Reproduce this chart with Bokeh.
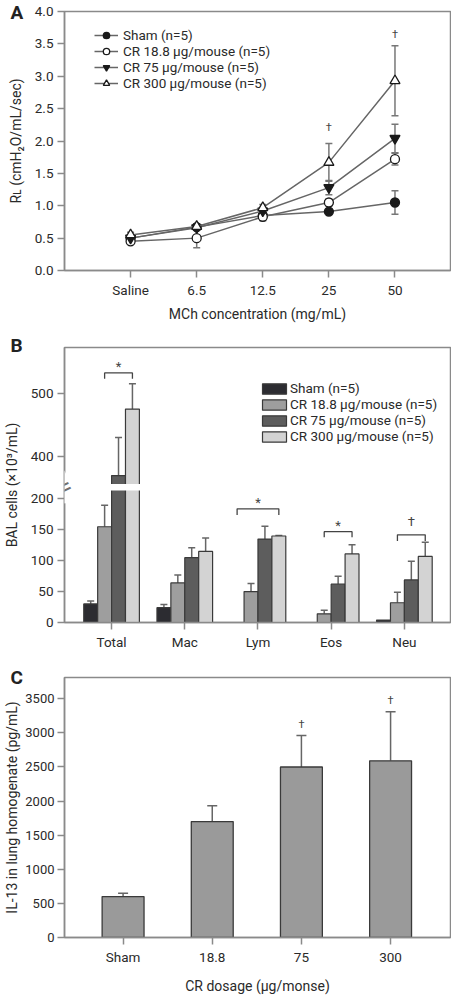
from bokeh.plotting import figure
from bokeh.layouts import column
from bokeh.models import (Range1d, FixedTicker, Whisker, TeeHead, ColumnDataSource,
                          Legend, LegendItem, Label, BoxAnnotation, PrintfTickFormatter, Title)
from bokeh.core.properties import value
from bokeh.embed import file_html
from bokeh.resources import INLINE

FONT = "Roboto, 'Liberation Sans', sans-serif"
GRAY = "#8a8a8a"
DARK = "#2a2a2a"

# ---------------- Panel A data ----------------
conc_labels = ["Saline", "6.5", "12.5", "25", "50"]
series_names = ["Sham (n=5)", "CR 18.8 μg/mouse (n=5)", "CR 75 μg/mouse (n=5)", "CR 300 μg/mouse (n=5)"]
rl_sham = [0.50, 0.67, 0.85, 0.91, 1.05]
rl_cr18 = [0.45, 0.50, 0.83, 1.05, 1.72]
rl_cr75 = [0.50, 0.66, 0.92, 1.28, 2.04]
rl_cr300 = [0.55, 0.68, 0.97, 1.67, 2.93]
rl_sham_err = [0.03, 0.03, 0.04, 0.03, 0.18]
rl_cr18_err = [0.03, 0.15, 0.06, 0.05, 0.09]
rl_cr75_err = [0.03, 0.03, 0.05, 0.11, 0.22]
rl_cr300_err = [0.04, 0.04, 0.05, 0.29, 0.54]
a_dagger_idx = [3, 4]
a_dagger_y = [2.21, 3.65]

# ---------------- Panel B data ----------------
cell_types = ["Total", "Mac", "Lym", "Eos", "Neu"]
bal_sham = [30, 24, 0, 0, 4]
bal_cr18 = [155, 64, 50, 14, 32]
bal_cr75 = [370, 105, 135, 62, 69]
bal_cr300 = [475, 115, 140, 111, 107]
bal_sham_err = [5, 5, 0, 0, 0]
bal_cr18_err = [35, 13, 13, 6, 17]
bal_cr75_err = [60, 16, 21, 13, 30]
bal_cr300_err = [40, 22, 1, 15, 23]
b_ticks = [0, 50, 100, 150, 200, 400, 500]
bracket_group = [0, 2, 3, 4]
bracket_from = [1, 0, 1, 1]
bracket_to = [3, 3, 3, 3]
bracket_top = [532, 184, 147, 142]
bracket_leg = [523, 174, 138, 132]
bracket_mark = ["*", "*", "*", "†"]
bracket_mark_y = [542, 194, 157, 163]

# ---------------- Panel C data ----------------
doses = ["Sham", "18.8", "75", "300"]
il13 = [600, 1700, 2500, 2590]
il13_err = [50, 230, 460, 720]
c_dagger_idx = [2, 3]
c_dagger_y = [3120, 3470]


def style(p):
    for ax in p.axis:
        ax.axis_line_color = GRAY
        ax.axis_line_width = 1.5
        ax.major_tick_line_color = GRAY
        ax.major_tick_line_width = 1.5
        ax.major_tick_out = 7
        ax.major_tick_in = 0
        ax.minor_tick_line_color = None
        ax.major_label_text_font = FONT
        ax.major_label_text_font_size = "13.5px"
        ax.major_label_text_color = DARK
        ax.axis_label_text_font = FONT
        ax.axis_label_text_font_size = "14px"
        ax.axis_label_text_font_style = "normal"
        ax.axis_label_text_color = DARK
        ax.major_label_standoff = 4
    p.grid.visible = False
    p.outline_line_color = GRAY
    p.outline_line_width = 1.5
    p.background_fill_color = "white"
    p.border_fill_color = "white"


def panel_letter(p, letter, standoff):
    p.add_layout(Title(text=letter, align="left", vertical_align="bottom", offset=-54,
                       standoff=standoff, text_font=FONT, text_font_size="19px",
                       text_font_style="bold", text_color="#222222"), "above")


# ================= Panel A =================
pa = figure(width=451, height=330, output_backend="svg", toolbar_location=None,
            x_range=Range1d(0.0, 5.84), y_range=Range1d(0, 4.0),
            min_border_left=59, min_border_right=1, min_border_top=11, min_border_bottom=60)
style(pa)
xa = [i + 1 for i in range(len(conc_labels))]
pa.xaxis.ticker = FixedTicker(ticks=xa)
pa.xaxis.major_label_overrides = {x: l for x, l in zip(xa, conc_labels)}
pa.yaxis.ticker = FixedTicker(ticks=[i * 0.5 for i in range(9)])
pa.yaxis.formatter = PrintfTickFormatter(format="%.1f")
pa.xaxis.axis_label = "MCh concentration (mg/mL)"
pa.yaxis.axis_label = "Rʟ (cmH₂O/mL/sec)"
pa.yaxis.axis_label_standoff = 8
pa.xaxis.axis_label_standoff = 5

a_series = [
    (rl_sham, rl_sham_err, "circle", "#1a1a1a"),
    (rl_cr18, rl_cr18_err, "circle", "white"),
    (rl_cr75, rl_cr75_err, "inverted_triangle", "#1a1a1a"),
    (rl_cr300, rl_cr300_err, "triangle", "white"),
]
a_items = []
for (vals, errs, marker, fill), name in zip(a_series, series_names):
    src = ColumnDataSource(dict(x=xa, y=vals,
                                lo=[v - e for v, e in zip(vals, errs)],
                                hi=[v + e for v, e in zip(vals, errs)]))
    pa.add_layout(Whisker(source=src, base="x", lower="lo", upper="hi", dimension="height",
                          line_color="#777777", line_width=1.5, level="underlay",
                          upper_head=TeeHead(size=7, line_color="#777777", line_width=1.5),
                          lower_head=TeeHead(size=7, line_color="#777777", line_width=1.5)))
    ln = pa.line("x", "y", source=src, line_color="#666666", line_width=1.5)
    sc = pa.scatter("x", "y", source=src, marker=marker, size=10 if "triangle" in marker else 9,
                    fill_color=fill, line_color="#1a1a1a", line_width=1.3)
    a_items.append(LegendItem(label=name, renderers=[ln, sc]))

pa.text(x=[xa[i] for i in a_dagger_idx], y=a_dagger_y, text=["†"] * len(a_dagger_idx),
        text_font=value(FONT), text_font_size="11px", text_align="center",
        text_baseline="middle", text_color="#444444")

leg_a = Legend(items=a_items, location=(30, 179), glyph_width=24, glyph_height=16,
               label_height=16, spacing=0, padding=0, margin=0, label_standoff=5,
               border_line_color=None, background_fill_alpha=0,
               label_text_font=FONT, label_text_font_size="13.5px", label_text_color=DARK)
pa.add_layout(leg_a)
panel_letter(pa, "A", -24)

# ================= Panel B =================
B_UP0, B_SLOPE = 268.6, 1.026


def brk(v):
    return v if v <= 218 else B_UP0 + (v - 400) * B_SLOPE


B_X0 = 0.357
pb = figure(width=451, height=332, output_backend="svg", toolbar_location=None,
            x_range=Range1d(B_X0, 5.63), y_range=Range1d(0, 445.2),
            min_border_left=59, min_border_right=1, min_border_top=17, min_border_bottom=40)
style(pb)
xb = [i + 1 for i in range(len(cell_types))]
pb.xaxis.ticker = FixedTicker(ticks=xb)
pb.xaxis.major_label_overrides = {x: l for x, l in zip(xb, cell_types)}
b_tick_pos = [float(brk(t)) for t in b_ticks]
pb.yaxis.ticker = FixedTicker(ticks=b_tick_pos)
pb.yaxis.major_label_overrides = {tp: str(t) for tp, t in zip(b_tick_pos, b_ticks)}
pb.yaxis.axis_label = "BAL cells (×10³/mL)"
pb.yaxis.axis_label_standoff = 8

b_series = [
    (bal_sham, bal_sham_err, "#2c2c31"),
    (bal_cr18, bal_cr18_err, "#9e9e9e"),
    (bal_cr75, bal_cr75_err, "#5d5d5d"),
    (bal_cr300, bal_cr300_err, "#d3d3d3"),
]
BW = 0.19
offsets = [-1.5 * BW, -0.5 * BW, 0.5 * BW, 1.5 * BW]
b_items = []
for si, ((vals, errs, col), name) in enumerate(zip(b_series, series_names)):
    xs = [x + offsets[si] for x in xb]
    src = ColumnDataSource(dict(x=xs, top=[brk(v) for v in vals]))
    r = pb.vbar(x="x", top="top", width=BW, source=src, fill_color=col,
                line_color="#3a3a3a", line_width=1.2)
    b_items.append(LegendItem(label=name, renderers=[r]))
    ex = [x for x, e in zip(xs, errs) if e > 0]
    elo = [brk(v) for v, e in zip(vals, errs) if e > 0]
    ehi = [brk(v + e) for v, e in zip(vals, errs) if e > 0]
    esrc = ColumnDataSource(dict(x=ex, lo=elo, hi=ehi))
    pb.add_layout(Whisker(source=esrc, base="x", lower="lo", upper="hi", dimension="height",
                          line_color="#666666", line_width=1.5, level="underlay",
                          upper_head=TeeHead(size=7, line_color="#666666", line_width=1.5),
                          lower_head=None))

# axis break
pb.add_layout(BoxAnnotation(left=0.6, right=1.4, bottom=213.5, top=224.3,
                            fill_color="white", fill_alpha=1.0, line_color=None))
pb.add_layout(Label(x=B_X0, y=219, text="=", angle=0.45, text_align="center",
                    text_baseline="middle", text_font=FONT, text_font_size="26px",
                    text_color="#6f6f6f", background_fill_color="white"))

# brackets
bxs, bys = [], []
for g, f, t, top, leg in zip(bracket_group, bracket_from, bracket_to, bracket_top, bracket_leg):
    x0 = xb[g] + offsets[f]
    x1 = xb[g] + offsets[t]
    bxs.append([x0, x0, x1, x1])
    bys.append([brk(leg), brk(top), brk(top), brk(leg)])
pb.multi_line(xs=bxs, ys=bys, line_color="#444444", line_width=1.3)
mx = [(xb[g] + offsets[f] + xb[g] + offsets[t]) / 2 for g, f, t in zip(bracket_group, bracket_from, bracket_to)]
pb.text(x=mx, y=[brk(v) for v in bracket_mark_y], text=bracket_mark,
        text_font=value(FONT), text_font_size="13px", text_align="center",
        text_baseline="middle", text_color="#444444")

leg_b = Legend(items=b_items, location=(195, 178), glyph_width=30, glyph_height=13,
               label_height=16, spacing=0, padding=0, margin=0, label_standoff=1,
               border_line_color=None, background_fill_alpha=0,
               label_text_font=FONT, label_text_font_size="13.5px", label_text_color=DARK)
pb.add_layout(leg_b)
panel_letter(pb, "B", -18)

# ================= Panel C =================
pc = figure(width=451, height=342, output_backend="svg", toolbar_location=None,
            x_range=Range1d(0.343, 4.672), y_range=Range1d(0, 3812),
            min_border_left=59, min_border_right=1, min_border_top=15, min_border_bottom=67)
style(pc)
xc = [i + 1 for i in range(len(doses))]
pc.xaxis.ticker = FixedTicker(ticks=xc)
pc.xaxis.major_label_overrides = {x: l for x, l in zip(xc, doses)}
pc.yaxis.ticker = FixedTicker(ticks=[i * 500 for i in range(8)])
pc.yaxis.major_label_text_font_size = "13px"
pc.yaxis.major_label_standoff = 3
pc.xaxis.axis_label = "CR dosage (μg/monse)"
pc.yaxis.axis_label = "IL-13 in lung homogenate (pg/mL)"
pc.yaxis.axis_label_standoff = 2
pc.xaxis.axis_label_standoff = 10

csrc = ColumnDataSource(dict(x=xc, top=il13, hi=[v + e for v, e in zip(il13, il13_err)]))
pc.vbar(x="x", top="top", width=0.47, source=csrc, fill_color="#9a9a9a",
        line_color="#3a3a3a", line_width=1.3)
pc.add_layout(Whisker(source=csrc, base="x", lower="top", upper="hi", dimension="height",
                      line_color="#666666", line_width=1.5, level="underlay",
                      upper_head=TeeHead(size=10, line_color="#666666", line_width=1.5),
                      lower_head=None))
pc.text(x=[xc[i] for i in c_dagger_idx], y=c_dagger_y, text=["†"] * len(c_dagger_idx),
        text_font=value(FONT), text_font_size="11px", text_align="center",
        text_baseline="middle", text_color="#444444")
panel_letter(pc, "C", -22)

layout = column(pa, pb, pc, spacing=0)
open("out.html", "w").write(file_html(layout, INLINE))
